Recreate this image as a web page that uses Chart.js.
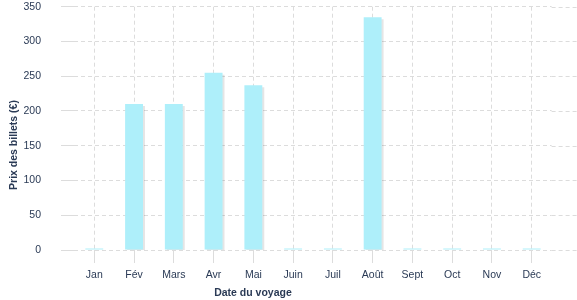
<!DOCTYPE html>
<html>
<head>
  <title>Prix des billets</title>
  <script src="https://cdn.jsdelivr.net/npm/chart.js@4/dist/chart.umd.min.js"></script>
  <style>
    html, body { margin: 0; padding: 0; background: #fff; }
    #wrap { width: 577px; height: 300px; }
  </style>
</head>
<body>
  <div id="wrap"><canvas id="price-chart"></canvas></div>
  <script>
    // chart data
    const months = ['Jan', 'Fév', 'Mars', 'Avr', 'Mai', 'Juin', 'Juil', 'Août', 'Sept', 'Oct', 'Nov', 'Déc'];
    const prices = [0, 210, 210, 255, 237, 0, 0, 335, 0, 0, 0, 0];
    const yTicks = [0, 50, 100, 150, 200, 250, 300, 350];

    const textColor = '#2a3a55';
    const gridColor = '#dcdcdc';
    const font = "'Liberation Sans', Arial, sans-serif";

    // draws the axis titles and pushes the horizontal grid to the right edge
    const extras = {
      id: 'extras',
      beforeDatasetsDraw(chart) {
        const ctx = chart.ctx;
        const y = chart.scales.y;
        ctx.save();
        ctx.strokeStyle = gridColor;
        ctx.lineWidth = 1;
        ctx.setLineDash([4, 3]);
        y.ticks.forEach(t => {
          const py = Math.round(y.getPixelForValue(t.value)) + 0.5;
          ctx.beginPath();
          ctx.moveTo(chart.chartArea.right, py);
          ctx.lineTo(chart.width, py);
          ctx.stroke();
        });
        ctx.restore();
      },
      beforeDatasetDraw(chart) {
        const ctx = chart.ctx;
        ctx.save();
        ctx.shadowColor = 'rgba(0,0,0,0.1)';
        ctx.shadowOffsetX = 2;
        ctx.shadowOffsetY = 2;
        ctx.shadowBlur = 0;
      },
      afterDatasetDraw(chart) {
        chart.ctx.restore();
      },
      afterDraw(chart) {
        const ctx = chart.ctx;
        ctx.save();
        ctx.fillStyle = textColor;
        ctx.font = 'bold 10.5px ' + font;
        ctx.textAlign = 'center';
        ctx.textBaseline = 'middle';
        ctx.fillText('Date du voyage', 253, 293);
        ctx.translate(14, 145);
        ctx.rotate(-Math.PI / 2);
        ctx.fillText('Prix des billets (€)', 0, 0);
        ctx.restore();
      }
    };

    const ctx = document.getElementById('price-chart').getContext('2d');
    new Chart(ctx, {
      type: 'bar',
      data: {
        labels: months,
        datasets: [{
          label: 'Prix des billets (€)',
          data: prices,
          backgroundColor: '#aeeffa',
          borderWidth: 0,
          minBarLength: 1.5,
          categoryPercentage: 1,
          barPercentage: 0.45
        }]
      },
      options: {
        responsive: true,
        maintainAspectRatio: false,
        animation: false,
        layout: { padding: { top: 6.7, right: 25.4, left: 0, bottom: 0 } },
        plugins: {
          legend: { display: false },
          tooltip: { enabled: false }
        },
        scales: {
          x: {
            afterFit: s => { s.height = 50; s.paddingLeft = 0; s.paddingRight = 0; },
            grid: {
              offset: false,
              color: gridColor,
              tickLength: 13,
              tickColor: gridColor
            },
            border: { display: false, dash: [4, 3] },
            ticks: { color: textColor, font: { family: font, size: 10.5 }, padding: 6, maxRotation: 0 }
          },
          y: {
            min: 0,
            max: 350,
            afterBuildTicks: s => { s.ticks = yTicks.map(v => ({ value: v })); },
            afterFit: s => { s.width = 74.4; s.paddingTop = 0; s.paddingBottom = 0; },
            grid: {
              color: gridColor,
              tickLength: 13.4,
              tickColor: gridColor
            },
            border: { display: false, dash: [4, 3] },
            ticks: { color: textColor, font: { family: font, size: 10.5 }, padding: 20 }
          }
        }
      },
      plugins: [extras]
    });
  </script>
</body>
</html>
